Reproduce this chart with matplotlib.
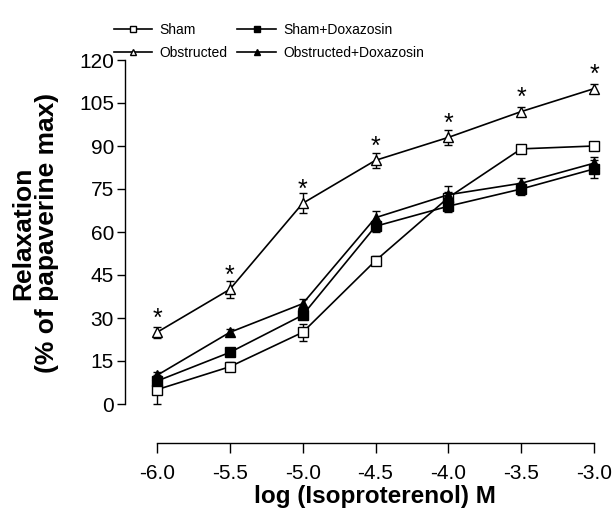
import numpy as np
import matplotlib
matplotlib.use("Agg")
import matplotlib.pyplot as plt

plt.rcParams['font.family'] = ['Liberation Sans', 'DejaVu Sans']

log_iso = [-6.0, -5.5, -5.0, -4.5, -4.0, -3.5, -3.0]
tick_labels = ['-6.0', '-5.5', '-5.0', '-4.5', '-4.0', '-3.5', '-3.0']

sham = [5, 13, 25, 50, 72, 89, 90]
sham_err = [5, 1.5, 3, 1.5, 2, 1.5, 0.5]
sham_dox = [8, 18, 31, 62, 69, 75, 82]
sham_dox_err = [1, 1, 1, 2, 2, 2, 3]
obs = [25, 40, 70, 85, 93, 102, 110]
obs_err = [2, 3, 3.5, 2.5, 2.5, 1.5, 1.5]
obs_dox = [10, 25, 35, 65, 73, 77, 84]
obs_dox_err = [1, 1, 1.5, 2.5, 3, 2, 2]

fig = plt.figure(figsize=(6.14, 5.21), dpi=100)
ax = fig.add_axes([157/614, 1-404/521, 437/614, 344/521])

series = [
    ('Sham', sham, sham_err, 's', 'white'),
    ('Obstructed', obs, obs_err, '^', 'white'),
    ('Sham+Doxazosin', sham_dox, sham_dox_err, 's', 'black'),
    ('Obstructed+Doxazosin', obs_dox, obs_dox_err, '^', 'black'),
]
handles = []
for name, y, err, mk, fc in series:
    eb = ax.errorbar(log_iso, y, yerr=err, color='black', lw=1.2, marker=mk,
                     markersize=6.5, markerfacecolor=fc, markeredgecolor='black',
                     markeredgewidth=1, capsize=3, elinewidth=1, clip_on=False,
                     label=name, zorder=3)
    for part in eb.lines[1] + eb.lines[2]:
        part.set_clip_on(False)
    handles.append(eb.lines[0])

# significance marks above the obstructed curve
for x, y in zip(log_iso, obs):
    ax.annotate('*', (x, y), xytext=(0, 5), textcoords='offset points',
                ha='center', va='baseline', fontsize=18)

ax.set_xlim(-6, -3)
ax.set_ylim(0, 120)
ax.set_yticks(np.arange(0, 121, 15))
ax.set_xticks(log_iso)
ax.set_xticklabels(tick_labels)
ax.tick_params(labelsize=15, width=1, direction='out')
ax.tick_params(axis='y', length=6, pad=2)
ax.tick_params(axis='x', length=7, pad=8)
for s in ['top', 'right']:
    ax.spines[s].set_visible(False)
ax.spines['left'].set_position(('outward', 23))
ax.spines['bottom'].set_position(('outward', 28))
ax.spines['left'].set_linewidth(1)
ax.spines['bottom'].set_linewidth(1)

fig.text(375/614, 1-496/521, 'log (Isoproterenol) M', ha='center', va='center',
         fontsize=17.5, fontweight='bold')
fig.text(35/614, 1-233/521, 'Relaxation\n(% of papaverine max)', ha='center',
         va='center', rotation=90, fontsize=19, fontweight='bold', linespacing=0.95)

fig.legend(handles, [s[0] for s in series], ncol=2, frameon=False,
           loc='upper left', bbox_to_anchor=(101/614, 1-10/521), fontsize=10,
           handlelength=2.8, columnspacing=0.7, labelspacing=0.7,
           handletextpad=0.5, markerscale=0.75)

fig.savefig('out.png', dpi=100)
